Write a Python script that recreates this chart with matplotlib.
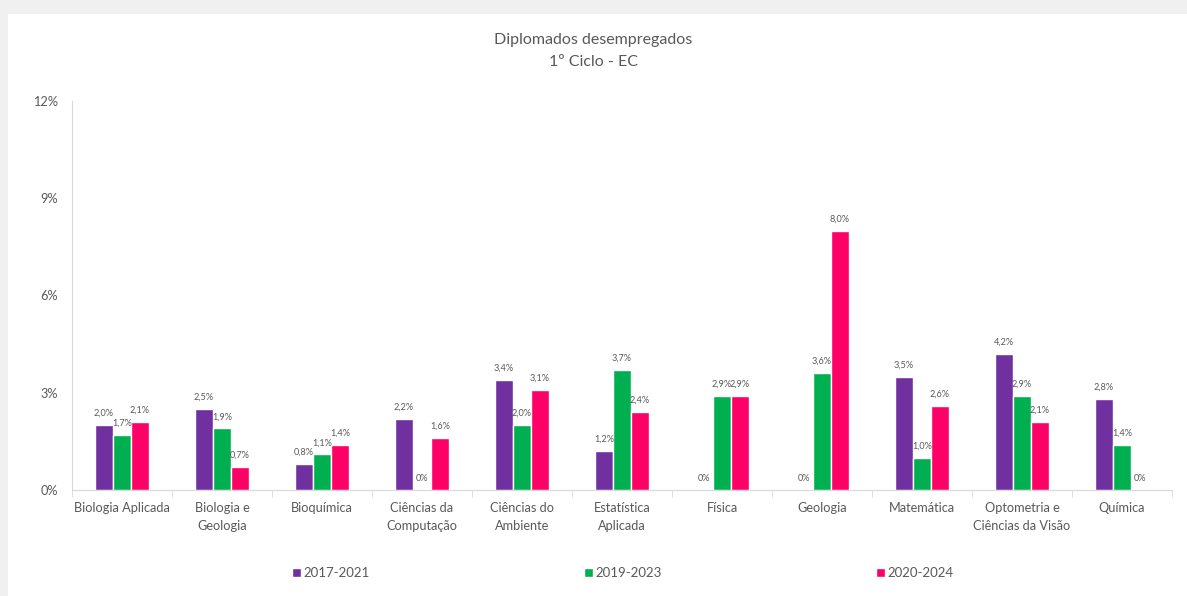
import matplotlib
matplotlib.use('Agg')
import matplotlib.pyplot as plt
import numpy as np
from matplotlib.patches import Rectangle

plt.rcParams['font.family'] = ['Lato', 'DejaVu Sans']

cursos = ['Biologia Aplicada', 'Biologia e\nGeologia', 'Bioquímica', 'Ciências da\nComputação',
          'Ciências do\nAmbiente', 'Estatística\nAplicada', 'Física', 'Geologia', 'Matemática',
          'Optometria e\nCiências da Visão', 'Química']
series = ['2017-2021', '2019-2023', '2020-2024']
v_2017 = [2.0, 2.5, 0.8, 2.2, 3.4, 1.2, 0.0, 0.0, 3.5, 4.2, 2.8]
v_2019 = [1.7, 1.9, 1.1, 0.0, 2.0, 3.7, 2.9, 3.6, 1.0, 2.9, 1.4]
v_2020 = [2.1, 0.7, 1.4, 1.6, 3.1, 2.4, 2.9, 8.0, 2.6, 2.1, 0.0]
cores = ['#7030A0', '#00B050', '#FF0066']

txt = '#595959'
fig = plt.figure(figsize=(11.87, 5.96), dpi=100, facecolor='#f0f0f0')
# cartao branco por tras do grafico
fig.patches.append(Rectangle((8/1187, 0), 1 - 8/1187, 1 - 14/596, transform=fig.transFigure,
                             facecolor='white', edgecolor='none', zorder=-10))
ax = fig.add_axes([72/1187, 106/596, 1100/1187, 389/596])
ax.set_facecolor('white')

x = np.arange(len(cursos))
w = 0.18
for i, (vals, cor, nome) in enumerate(zip([v_2017, v_2019, v_2020], cores, series)):
    pos = x + (i - 1) * w
    bars = ax.bar(pos, vals, width=w, color=cor, edgecolor='white', linewidth=1, label=nome)
    for b, v in zip(bars, vals):
        lab = '0%' if v == 0 else ('%.1f%%' % v).replace('.', ',')
        ax.text(b.get_x() + b.get_width() / 2, v + 0.22, lab, ha='center', va='bottom',
                fontsize=6.6, color=txt)

ax.set_xlim(-0.5, len(cursos) - 0.5)
ax.set_ylim(0, 12)
ax.set_yticks([0, 3, 6, 9, 12])
ax.set_yticklabels(['0%', '3%', '6%', '9%', '12%'])
ax.set_xticks(x)
ax.set_xticklabels(cursos, linespacing=1.55)
ax.set_xticks(np.arange(len(cursos) + 1) - 0.5, minor=True)
ax.tick_params(axis='x', which='major', length=0, pad=9, labelsize=9.2, colors=txt)
ax.tick_params(axis='x', which='minor', length=5, color='#d9d9d9', direction='out')
ax.tick_params(axis='y', length=0, pad=10, labelsize=9.2, colors=txt)
for s in ['top', 'right']:
    ax.spines[s].set_visible(False)
ax.spines['left'].set_color('#d9d9d9')
ax.spines['bottom'].set_color('#d9d9d9')

fig.text(0.5, 1 - 40/596, 'Diplomados desempregados', ha='center', va='center', fontsize=11.5, color=txt)
fig.text(0.5, 1 - 62/596, '1º Ciclo - EC', ha='center', va='center', fontsize=11.5, color=txt)

fig.legend(loc='center', bbox_to_anchor=(623/1187, 1 - 573/596), ncol=3, frameon=False,
           fontsize=9.5, labelcolor=txt, handlelength=0.7, handleheight=0.7,
           handletextpad=0.2, columnspacing=16.2)

fig.savefig('out.png', dpi=100, facecolor=fig.get_facecolor())
